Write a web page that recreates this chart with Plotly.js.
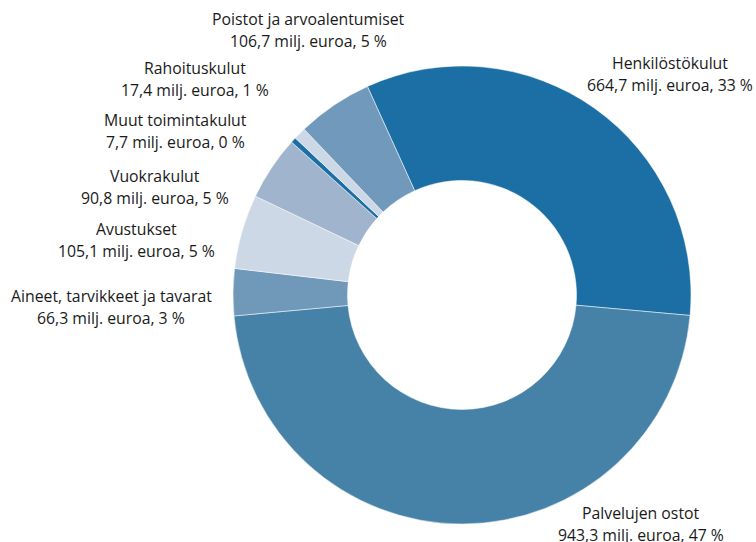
<!DOCTYPE html>
<html>
<head>
<meta charset="utf-8">
<script src="https://cdn.plot.ly/plotly-3.0.1.min.js"></script>
<style>html,body{margin:0;padding:0;background:#fff;}#chart{width:756px;height:542px;}</style>
</head>
<body>
<div id="chart"></div>
<script>
const categories = ["Henkilöstökulut", "Palvelujen ostot", "Aineet, tarvikkeet ja tavarat", "Avustukset", "Vuokrakulut", "Muut toimintakulut", "Rahoituskulut", "Poistot ja arvoalentumiset"];
const values = [664.7, 943.3, 66.3, 105.1, 90.8, 7.7, 17.4, 106.7];
const colors = ["#1b6fa4", "#4682a8", "#6f98b9", "#cdd8e6", "#a0b5cd", "#1b6fa4", "#cdd8e6", "#7099bb"];
// label centre positions (px) for name line, value line below
const labelX = [670, 641, 111, 136, 155, 175, 195, 308];
const labelY = [63, 513, 296, 229, 176, 120, 68, 19];

const W = 756, H = 542;
const total = values.reduce((a, b) => a + b, 0);
const fmt = v => v.toFixed(1).replace('.', ',');

const annotations = [];
categories.forEach((c, i) => {
  const pct = Math.round(values[i] / total * 100);
  const lines = [c, fmt(values[i]) + " milj. euroa, " + pct + " %"];
  lines.forEach((t, j) => {
    annotations.push({
      xref: 'paper', yref: 'paper',
      x: labelX[i] / W, y: 1 - (labelY[i] + j * 21.5) / H,
      xanchor: 'center', yanchor: 'middle',
      text: t, showarrow: false,
      font: {family: '"Open Sans", "Noto Sans", sans-serif', size: 15.8, color: '#1a1a1a'}
    });
  });
});

const trace = {
  type: 'pie',
  labels: categories,
  values: values,
  marker: {colors: colors, line: {color: '#ffffff', width: 0.5}},
  hole: 0.5,
  sort: false,
  direction: 'clockwise',
  rotation: -24.4,
  textinfo: 'none',
  hoverinfo: 'label+value+percent',
  domain: {x: [233 / W, 691 / W], y: [1 - 524 / H, 1 - 66 / H]}
};

Plotly.newPlot('chart', [trace], {
  width: W, height: H,
  margin: {l: 0, r: 0, t: 0, b: 0},
  showlegend: false,
  paper_bgcolor: '#ffffff',
  annotations: annotations
}, {displayModeBar: false, staticPlot: true});
</script>
</body>
</html>
